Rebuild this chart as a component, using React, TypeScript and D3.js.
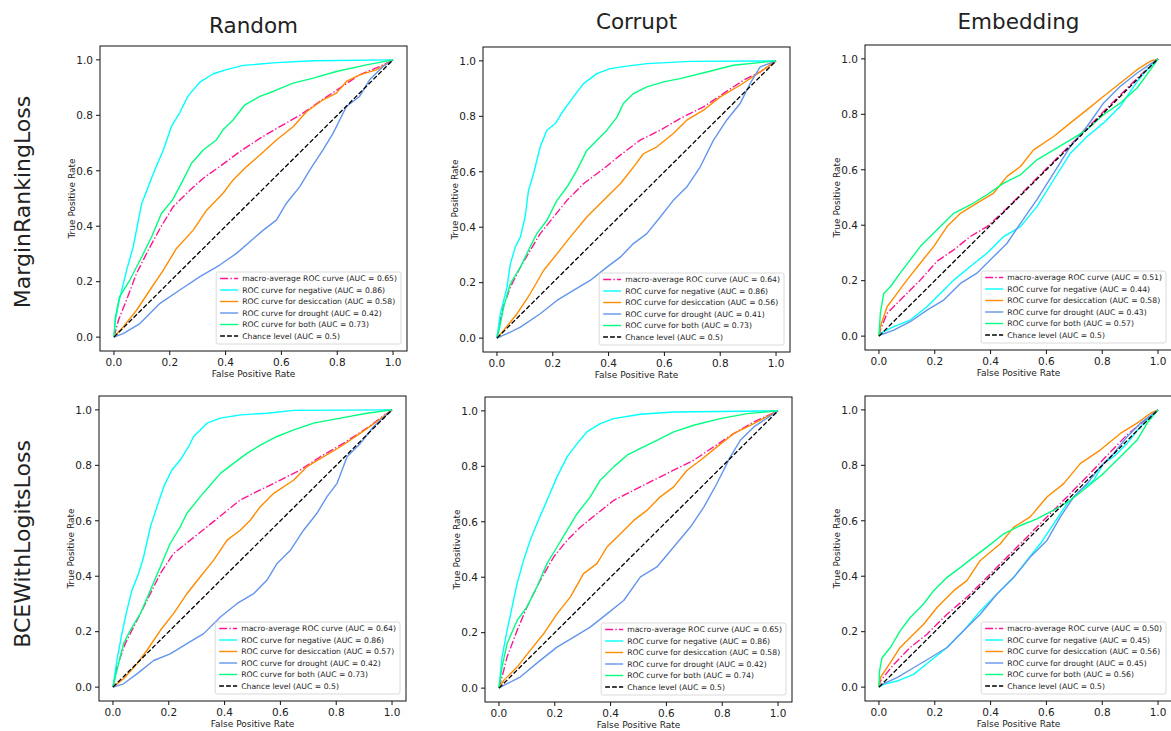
import React from 'react';
import * as d3 from 'd3';

type Pt = [number, number];

// ---- labels -------------------------------------------------------------
const columnTitles = ['Random', 'Corrupt', 'Embedding'];
const rowTitles = ['MarginRankingLoss', 'BCEWithLogitsLoss'];
const seriesNames = [
  'macro-average ROC curve',
  'ROC curve for negative',
  'ROC curve for desiccation',
  'ROC curve for drought',
  'ROC curve for both',
];
const chanceLabel = 'Chance level (AUC = 0.5)';
const tickValues = [0, 0.2, 0.4, 0.6, 0.8, 1.0];
const chanceLine: Pt[] = [[0, 0], [1, 1]];

// ---- AUC values (macro, negative, desiccation, drought, both) ----------
const aucRankRandom = [0.65, 0.86, 0.58, 0.42, 0.73];
const aucRankCorrupt = [0.64, 0.86, 0.56, 0.41, 0.73];
const aucRankEmbedding = [0.51, 0.44, 0.58, 0.43, 0.57];
const aucBceRandom = [0.64, 0.86, 0.57, 0.42, 0.73];
const aucBceCorrupt = [0.65, 0.86, 0.58, 0.42, 0.74];
const aucBceEmbedding = [0.50, 0.45, 0.56, 0.45, 0.56];

// ---- ROC curves: [false positive rate, true positive rate] -------------
// MarginRankingLoss / Random
const rankRandomMacro: Pt[] = [[0,0],[0.016,0.061],[0.045,0.134],[0.081,0.23],[0.123,0.314],[0.165,0.392],[0.212,0.47],[0.272,0.53],[0.32,0.573],[0.379,0.615],[0.451,0.669],[0.523,0.717],[0.594,0.759],[0.666,0.8],[0.737,0.85],[0.809,0.898],[0.88,0.946],[0.952,0.976],[1,1]];
const rankRandomNegative: Pt[] = [[0,0],[0.005,0.06],[0.016,0.12],[0.045,0.24],[0.069,0.326],[0.099,0.48],[0.141,0.59],[0.177,0.675],[0.206,0.76],[0.236,0.81],[0.266,0.87],[0.308,0.92],[0.356,0.95],[0.403,0.965],[0.463,0.98],[0.582,0.99],[0.714,0.997],[1,1]];
const rankRandomDesiccation: Pt[] = [[0,0],[0.033,0.037],[0.081,0.097],[0.129,0.17],[0.177,0.242],[0.224,0.32],[0.284,0.386],[0.332,0.458],[0.391,0.519],[0.427,0.567],[0.475,0.615],[0.523,0.657],[0.582,0.711],[0.642,0.759],[0.69,0.813],[0.749,0.856],[0.797,0.88],[0.833,0.922],[0.88,0.946],[0.94,0.964],[1,1]];
const rankRandomDrought: Pt[] = [[0,0],[0.033,0.013],[0.093,0.049],[0.165,0.122],[0.236,0.17],[0.308,0.218],[0.379,0.26],[0.439,0.302],[0.487,0.344],[0.535,0.386],[0.582,0.422],[0.618,0.483],[0.666,0.543],[0.702,0.603],[0.749,0.675],[0.785,0.735],[0.833,0.832],[0.88,0.868],[0.916,0.928],[0.964,0.976],[1,1]];
const rankRandomBoth: Pt[] = [[0,0],[0.005,0.07],[0.02,0.145],[0.057,0.206],[0.1,0.29],[0.135,0.362],[0.17,0.446],[0.21,0.495],[0.248,0.567],[0.278,0.627],[0.32,0.675],[0.367,0.711],[0.39,0.747],[0.427,0.783],[0.469,0.838],[0.523,0.868],[0.57,0.886],[0.642,0.916],[0.714,0.934],[0.797,0.958],[0.905,0.982],[1,1]];

// MarginRankingLoss / Corrupt
const rankCorruptMacro: Pt[] = [[0,0],[0.018,0.1],[0.048,0.184],[0.084,0.256],[0.119,0.316],[0.155,0.377],[0.203,0.437],[0.251,0.497],[0.31,0.557],[0.382,0.611],[0.442,0.66],[0.513,0.714],[0.585,0.75],[0.656,0.792],[0.74,0.834],[0.811,0.882],[0.883,0.93],[0.943,0.96],[1,1]];
const rankCorruptNegative: Pt[] = [[0,0],[0.012,0.088],[0.036,0.184],[0.048,0.268],[0.066,0.329],[0.084,0.365],[0.101,0.437],[0.113,0.533],[0.131,0.593],[0.155,0.69],[0.179,0.75],[0.209,0.774],[0.239,0.822],[0.274,0.87],[0.31,0.918],[0.358,0.954],[0.406,0.972],[0.465,0.981],[0.537,0.99],[0.692,0.998],[1,1]];
const rankCorruptDesiccation: Pt[] = [[0,0],[0.024,0.028],[0.072,0.088],[0.119,0.16],[0.167,0.244],[0.215,0.304],[0.263,0.365],[0.322,0.437],[0.382,0.497],[0.442,0.557],[0.489,0.617],[0.525,0.665],[0.573,0.69],[0.632,0.738],[0.68,0.786],[0.74,0.822],[0.8,0.87],[0.871,0.912],[0.943,0.96],[1,1]];
const rankCorruptDrought: Pt[] = [[0,0],[0.036,0.016],[0.084,0.04],[0.155,0.088],[0.215,0.136],[0.274,0.172],[0.334,0.208],[0.394,0.256],[0.442,0.292],[0.489,0.341],[0.537,0.377],[0.585,0.437],[0.632,0.497],[0.68,0.545],[0.728,0.617],[0.776,0.714],[0.823,0.786],[0.871,0.846],[0.907,0.918],[0.943,0.978],[1,1]];
const rankCorruptBoth: Pt[] = [[0,0],[0.01,0.04],[0.024,0.112],[0.048,0.196],[0.084,0.256],[0.119,0.329],[0.143,0.377],[0.179,0.425],[0.215,0.497],[0.251,0.545],[0.286,0.605],[0.322,0.677],[0.358,0.714],[0.394,0.75],[0.43,0.797],[0.453,0.846],[0.489,0.882],[0.537,0.906],[0.597,0.924],[0.656,0.936],[0.752,0.96],[0.847,0.984],[1,1]];

// MarginRankingLoss / Embedding
const rankEmbeddingMacro: Pt[] = [[0,0],[0.005,0.022],[0.029,0.082],[0.088,0.142],[0.148,0.202],[0.208,0.27],[0.268,0.311],[0.327,0.359],[0.387,0.395],[0.447,0.45],[0.507,0.51],[0.566,0.57],[0.626,0.63],[0.686,0.69],[0.746,0.75],[0.805,0.81],[0.865,0.87],[0.925,0.93],[1,1]];
const rankEmbeddingNegative: Pt[] = [[0,0],[0.005,0.01],[0.053,0.034],[0.112,0.058],[0.172,0.106],[0.22,0.154],[0.268,0.202],[0.327,0.251],[0.387,0.299],[0.447,0.359],[0.507,0.395],[0.566,0.467],[0.626,0.564],[0.686,0.66],[0.746,0.72],[0.805,0.769],[0.865,0.829],[0.913,0.901],[0.949,0.949],[1,1]];
const rankEmbeddingDesiccation: Pt[] = [[0,0],[0.005,0.034],[0.029,0.106],[0.065,0.154],[0.1,0.202],[0.148,0.263],[0.196,0.323],[0.244,0.395],[0.292,0.443],[0.351,0.48],[0.411,0.516],[0.459,0.576],[0.507,0.612],[0.554,0.672],[0.626,0.72],[0.686,0.769],[0.746,0.817],[0.805,0.865],[0.865,0.913],[0.925,0.961],[0.973,0.992],[1,1]];
const rankEmbeddingDrought: Pt[] = [[0,0],[0.005,0.004],[0.053,0.022],[0.112,0.052],[0.172,0.094],[0.232,0.13],[0.292,0.19],[0.351,0.227],[0.411,0.287],[0.459,0.335],[0.507,0.407],[0.566,0.492],[0.626,0.588],[0.686,0.684],[0.746,0.757],[0.805,0.841],[0.865,0.901],[0.925,0.949],[1,1]];
const rankEmbeddingBoth: Pt[] = [[0,0],[0.005,0.082],[0.017,0.154],[0.041,0.178],[0.076,0.227],[0.112,0.275],[0.148,0.323],[0.184,0.359],[0.22,0.395],[0.268,0.443],[0.327,0.473],[0.387,0.51],[0.447,0.552],[0.507,0.582],[0.566,0.636],[0.626,0.672],[0.686,0.708],[0.746,0.745],[0.805,0.799],[0.865,0.841],[0.925,0.895],[0.973,0.961],[1,1]];

// BCEWithLogitsLoss / Random
const bceRandomMacro: Pt[] = [[0,0],[0.014,0.072],[0.044,0.157],[0.086,0.241],[0.128,0.325],[0.17,0.41],[0.217,0.482],[0.277,0.53],[0.337,0.578],[0.397,0.627],[0.456,0.675],[0.528,0.711],[0.6,0.747],[0.671,0.783],[0.743,0.831],[0.827,0.88],[0.91,0.934],[0.958,0.97],[1,1]];
const bceRandomNegative: Pt[] = [[0,0],[0.014,0.096],[0.032,0.193],[0.05,0.277],[0.068,0.349],[0.092,0.41],[0.11,0.47],[0.134,0.578],[0.158,0.651],[0.182,0.723],[0.211,0.783],[0.241,0.819],[0.271,0.867],[0.289,0.904],[0.337,0.952],[0.385,0.97],[0.456,0.982],[0.552,0.988],[0.648,0.998],[1,1]];
const bceRandomDesiccation: Pt[] = [[0,0],[0.038,0.03],[0.086,0.084],[0.122,0.133],[0.17,0.205],[0.217,0.265],[0.265,0.337],[0.313,0.398],[0.361,0.458],[0.409,0.53],[0.456,0.566],[0.492,0.602],[0.528,0.651],[0.576,0.699],[0.648,0.747],[0.695,0.795],[0.755,0.831],[0.815,0.867],[0.887,0.916],[0.946,0.958],[1,1]];
const bceRandomDrought: Pt[] = [[0,0],[0.038,0.012],[0.086,0.048],[0.146,0.096],[0.205,0.12],[0.265,0.157],[0.325,0.193],[0.385,0.253],[0.444,0.301],[0.504,0.337],[0.552,0.386],[0.588,0.446],[0.636,0.494],[0.683,0.566],[0.731,0.627],[0.767,0.687],[0.803,0.735],[0.839,0.831],[0.887,0.88],[0.934,0.94],[1,1]];
const bceRandomBoth: Pt[] = [[0,0],[0.014,0.06],[0.038,0.157],[0.062,0.205],[0.098,0.265],[0.134,0.349],[0.17,0.434],[0.205,0.518],[0.241,0.578],[0.265,0.627],[0.313,0.687],[0.349,0.729],[0.385,0.771],[0.432,0.807],[0.48,0.843],[0.528,0.873],[0.588,0.904],[0.648,0.928],[0.719,0.952],[0.815,0.97],[0.91,0.988],[1,1]];

// BCEWithLogitsLoss / Corrupt
const bceCorruptMacro: Pt[] = [[0,0],[0.011,0.04],[0.029,0.112],[0.065,0.208],[0.1,0.292],[0.148,0.389],[0.196,0.473],[0.244,0.533],[0.292,0.581],[0.351,0.629],[0.411,0.677],[0.483,0.714],[0.554,0.75],[0.626,0.786],[0.698,0.822],[0.769,0.87],[0.841,0.918],[0.913,0.96],[1,1]];
const bceCorruptNegative: Pt[] = [[0,0],[0.011,0.112],[0.029,0.208],[0.047,0.292],[0.065,0.377],[0.088,0.461],[0.112,0.533],[0.136,0.593],[0.172,0.677],[0.208,0.762],[0.244,0.834],[0.28,0.882],[0.315,0.924],[0.363,0.954],[0.411,0.972],[0.507,0.988],[0.626,0.996],[1,1]];
const bceCorruptDesiccation: Pt[] = [[0,0],[0.017,0.028],[0.065,0.076],[0.112,0.136],[0.16,0.196],[0.208,0.268],[0.256,0.329],[0.303,0.413],[0.351,0.449],[0.387,0.509],[0.435,0.557],[0.483,0.605],[0.53,0.641],[0.578,0.69],[0.626,0.726],[0.674,0.786],[0.722,0.822],[0.781,0.87],[0.841,0.918],[0.913,0.954],[1,1]];
const bceCorruptDrought: Pt[] = [[0,0],[0.017,0.01],[0.076,0.04],[0.148,0.1],[0.208,0.148],[0.268,0.184],[0.327,0.22],[0.387,0.268],[0.447,0.316],[0.507,0.401],[0.566,0.437],[0.626,0.509],[0.686,0.581],[0.734,0.653],[0.781,0.738],[0.829,0.834],[0.865,0.894],[0.913,0.942],[1,1]];
const bceCorruptBoth: Pt[] = [[0,0],[0.011,0.076],[0.029,0.16],[0.065,0.244],[0.1,0.292],[0.136,0.365],[0.172,0.449],[0.208,0.509],[0.244,0.569],[0.28,0.629],[0.327,0.69],[0.363,0.75],[0.411,0.798],[0.459,0.84],[0.507,0.865],[0.566,0.894],[0.626,0.924],[0.698,0.948],[0.793,0.972],[0.889,0.99],[1,1]];

// BCEWithLogitsLoss / Embedding
const bceEmbeddingMacro: Pt[] = [[0,0],[0.005,0.022],[0.053,0.082],[0.112,0.143],[0.172,0.191],[0.244,0.263],[0.315,0.324],[0.387,0.396],[0.459,0.469],[0.53,0.541],[0.602,0.614],[0.674,0.686],[0.746,0.76],[0.817,0.835],[0.889,0.91],[1,1]];
const bceEmbeddingNegative: Pt[] = [[0,0],[0.017,0.01],[0.065,0.022],[0.124,0.046],[0.184,0.094],[0.244,0.143],[0.303,0.203],[0.363,0.275],[0.423,0.336],[0.483,0.396],[0.53,0.457],[0.578,0.517],[0.626,0.589],[0.674,0.662],[0.722,0.71],[0.769,0.746],[0.805,0.807],[0.841,0.831],[0.889,0.879],[0.937,0.94],[1,1]];
const bceEmbeddingDesiccation: Pt[] = [[0,0],[0.005,0.034],[0.029,0.07],[0.076,0.143],[0.112,0.179],[0.16,0.227],[0.208,0.287],[0.268,0.348],[0.315,0.384],[0.363,0.457],[0.435,0.517],[0.483,0.577],[0.542,0.614],[0.602,0.686],[0.662,0.734],[0.722,0.807],[0.793,0.855],[0.865,0.915],[0.925,0.952],[0.973,0.988],[1,1]];
const bceEmbeddingDrought: Pt[] = [[0,0],[0.011,0.01],[0.065,0.034],[0.124,0.07],[0.184,0.106],[0.244,0.143],[0.303,0.203],[0.363,0.263],[0.423,0.336],[0.483,0.396],[0.542,0.469],[0.602,0.529],[0.65,0.614],[0.698,0.686],[0.746,0.734],[0.793,0.795],[0.841,0.843],[0.889,0.903],[0.937,0.952],[1,1]];
const bceEmbeddingBoth: Pt[] = [[0,0],[0.002,0.058],[0.011,0.106],[0.041,0.143],[0.076,0.203],[0.112,0.251],[0.16,0.3],[0.196,0.348],[0.244,0.396],[0.292,0.432],[0.339,0.469],[0.387,0.505],[0.447,0.553],[0.507,0.583],[0.566,0.607],[0.626,0.638],[0.686,0.674],[0.746,0.722],[0.805,0.771],[0.865,0.831],[0.925,0.891],[0.961,0.952],[1,1]];

// ---- styling ------------------------------------------------------------
const seriesColors = ['#ff1493', '#00ffff', '#ff8c00', '#6495ed', '#00ff7f'];
const seriesDash = ['8,2.2,1.4,2.2', null, null, null, null];
const FONT = "'DejaVu Sans', 'Liberation Sans', sans-serif";
const FRAME_W = 307;
const FRAME_H = 305;

type PanelSpec = {
  left: number;
  top: number;
  curves: Pt[][];
  auc: number[];
};

// frame position of each of the six axes (row-major)
const panels: PanelSpec[] = [
  { left: 100, top: 46, curves: [rankRandomMacro, rankRandomNegative, rankRandomDesiccation, rankRandomDrought, rankRandomBoth], auc: aucRankRandom },
  { left: 483, top: 47, curves: [rankCorruptMacro, rankCorruptNegative, rankCorruptDesiccation, rankCorruptDrought, rankCorruptBoth], auc: aucRankCorrupt },
  { left: 865, top: 45, curves: [rankEmbeddingMacro, rankEmbeddingNegative, rankEmbeddingDesiccation, rankEmbeddingDrought, rankEmbeddingBoth], auc: aucRankEmbedding },
  { left: 99, top: 396, curves: [bceRandomMacro, bceRandomNegative, bceRandomDesiccation, bceRandomDrought, bceRandomBoth], auc: aucBceRandom },
  { left: 485, top: 397, curves: [bceCorruptMacro, bceCorruptNegative, bceCorruptDesiccation, bceCorruptDrought, bceCorruptBoth], auc: aucBceCorrupt },
  { left: 865, top: 396, curves: [bceEmbeddingMacro, bceEmbeddingNegative, bceEmbeddingDesiccation, bceEmbeddingDrought, bceEmbeddingBoth], auc: aucBceEmbedding },
];

const titleBaselines = [33, 29, 29];
const rowCenters = [202, 544];

const LEGEND_FONT_SIZE = 7.7;
let measureCtx: CanvasRenderingContext2D | null = null;
function textWidth(s: string, size: number): number {
  if (!measureCtx) measureCtx = document.createElement('canvas').getContext('2d');
  if (!measureCtx) return s.length * size * 0.55;
  measureCtx.font = `${size}px 'DejaVu Sans'`;
  return measureCtx.measureText(s).width;
}

function Panel({ spec }: { spec: PanelSpec }) {
  const x = d3.scaleLinear().domain([-0.05, 1.05]).range([spec.left, spec.left + FRAME_W]);
  const y = d3.scaleLinear().domain([-0.05, 1.05]).range([spec.top + FRAME_H, spec.top]);
  const line = d3.line<Pt>().x((d) => x(d[0])).y((d) => y(d[1]));
  const fmt = d3.format('.1f');
  const right = spec.left + FRAME_W;
  const bottom = spec.top + FRAME_H;

  const labels = seriesNames.map((n, i) => `${n} (AUC = ${spec.auc[i].toFixed(2)})`).concat(chanceLabel);
  const maxW = Math.max(...labels.map((l) => textWidth(l, LEGEND_FONT_SIZE)));
  const boxW = maxW + 30;
  const boxH = 72;
  const boxRight = right - 6;
  const boxBottom = bottom - 7;
  const boxLeft = boxRight - boxW;
  const boxTop = boxBottom - boxH;
  const rowStep = 11.5;

  return (
    <g>
      {spec.curves.map((c, i) => (
        <path
          key={i}
          d={line(c) || ''}
          fill="none"
          stroke={seriesColors[i]}
          strokeWidth={1.4}
          strokeDasharray={seriesDash[i] || undefined}
          strokeLinejoin="round"
        />
      ))}
      <path d={line(chanceLine) || ''} fill="none" stroke="#000" strokeWidth={1.3} strokeDasharray="4.8,2.1" />

      <rect x={spec.left} y={spec.top} width={FRAME_W} height={FRAME_H} fill="none" stroke="#111" strokeWidth={1} />

      {tickValues.map((t) => (
        <g key={`x${t}`}>
          <line x1={x(t)} x2={x(t)} y1={bottom} y2={bottom + 4} stroke="#111" strokeWidth={1} />
          <text x={x(t)} y={bottom + 15} textAnchor="middle" fontSize={10.5} fill="#222" fontFamily={FONT}>
            {fmt(t)}
          </text>
        </g>
      ))}
      {tickValues.map((t) => (
        <g key={`y${t}`}>
          <line x1={spec.left - 4} x2={spec.left} y1={y(t)} y2={y(t)} stroke="#111" strokeWidth={1} />
          <text x={spec.left - 7} y={y(t) + 3.8} textAnchor="end" fontSize={10.5} fill="#222" fontFamily={FONT}>
            {fmt(t)}
          </text>
        </g>
      ))}

      <text x={(spec.left + right) / 2} y={bottom + 26} textAnchor="middle" fontSize={9} fill="#222" fontFamily={FONT}>
        False Positive Rate
      </text>
      <text
        transform={`translate(${spec.left - 25},${(spec.top + bottom) / 2}) rotate(-90)`}
        textAnchor="middle"
        fontSize={9}
        fill="#222"
        fontFamily={FONT}
      >
        True Positive Rate
      </text>

      <rect x={boxLeft} y={boxTop} width={boxW} height={boxH} rx={2} fill="#fff" fillOpacity={0.8} stroke="#d0d0d0" strokeWidth={0.8} />
      {labels.map((l, i) => {
        const cy = boxTop + 6.5 + i * rowStep;
        const isChance = i === labels.length - 1;
        return (
          <g key={l}>
            <line
              x1={boxLeft + 4}
              x2={boxLeft + 22}
              y1={cy}
              y2={cy}
              stroke={isChance ? '#000' : seriesColors[i]}
              strokeWidth={1.4}
              strokeDasharray={isChance ? '4.8,2.1' : seriesDash[i] || undefined}
            />
            <text x={boxLeft + 26} y={cy + 2.8} fontSize={LEGEND_FONT_SIZE} fill="#222" fontFamily={FONT}>
              {l}
            </text>
          </g>
        );
      })}
    </g>
  );
}

export default function App() {
  return (
    <svg
      width={1171}
      height={731}
      style={{ position: 'absolute', left: 0, top: 0, background: '#fff' }}
    >
      <rect width={1171} height={731} fill="#fff" />
      {columnTitles.map((t, i) => (
        <text
          key={t}
          x={panels[i].left + FRAME_W / 2}
          y={titleBaselines[i]}
          textAnchor="middle"
          fontSize={21.5}
          fill="#222"
          fontFamily={FONT}
        >
          {t}
        </text>
      ))}
      {rowTitles.map((t, i) => (
        <text
          key={t}
          transform={`translate(30,${rowCenters[i]}) rotate(-90)`}
          textAnchor="middle"
          fontSize={22}
          fill="#222"
          fontFamily={FONT}
        >
          {t}
        </text>
      ))}
      {panels.map((p, i) => (
        <Panel key={i} spec={p} />
      ))}
    </svg>
  );
}
